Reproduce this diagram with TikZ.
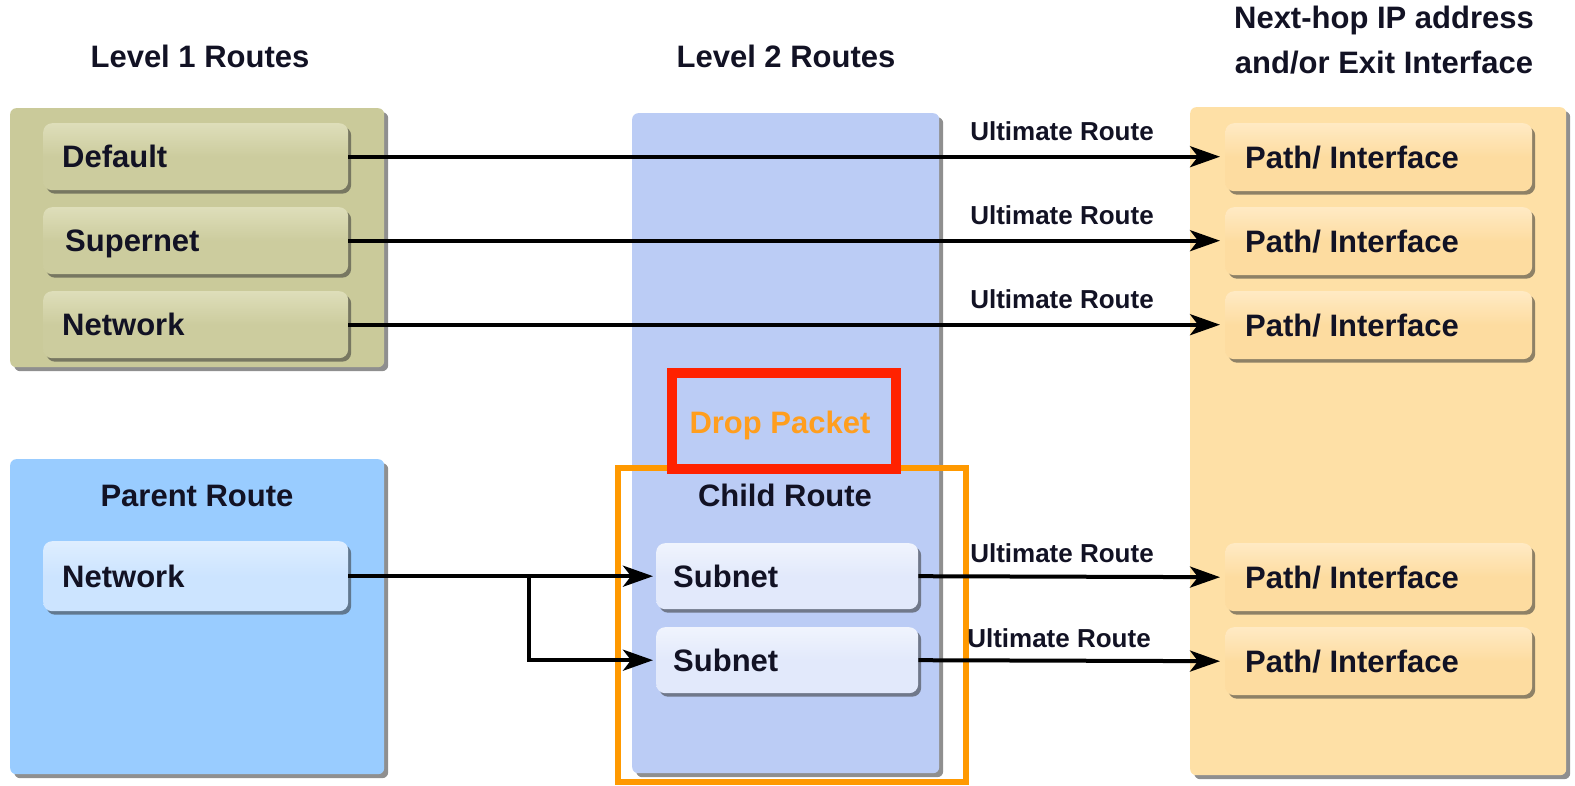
\documentclass[tikz,border=0pt]{standalone}
\usepackage{fontspec}
\setmainfont{Liberation Sans}
\usetikzlibrary{arrows.meta,shadows,calc}

\definecolor{ink}{RGB}{18,18,36}
\definecolor{olive}{RGB}{202,202,154}
\definecolor{olivekey}{RGB}{204,204,158}
\definecolor{olivetop}{RGB}{222,222,186}
\definecolor{sky}{RGB}{153,204,255}
\definecolor{skykey}{RGB}{204,228,255}
\definecolor{skytop}{RGB}{222,238,255}
\definecolor{lilac}{RGB}{187,204,245}
\definecolor{lilackey}{RGB}{226,233,251}
\definecolor{lilactop}{RGB}{240,244,253}
\definecolor{sand}{RGB}{254,224,166}
\definecolor{sandkey}{RGB}{253,220,160}
\definecolor{sandtop}{RGB}{255,234,196}
\definecolor{ambr}{RGB}{255,153,0}
\definecolor{droptxt}{RGB}{255,158,30}
\definecolor{alarm}{RGB}{255,34,0}

\tikzset{
  pane/.style={rounded corners=6pt, draw=none, inner sep=0pt, anchor=north west,
    drop shadow={shadow xshift=4pt, shadow yshift=-4pt, opacity=0.55, fill=black!80}},
  key/.style={rounded corners=9pt, draw=none, inner sep=0pt, anchor=north west,
    drop shadow={shadow xshift=3pt, shadow yshift=-3.5pt, opacity=0.55, fill=black!80}},
  lbl/.style={font=\fontsize{31}{36}\selectfont\bfseries, text=ink, inner sep=0pt,
    text height=22pt, text depth=0pt},
  head/.style={font=\fontsize{31}{36}\selectfont\bfseries, text=ink, inner sep=0pt,
    text height=22pt, text depth=0pt},
  tag/.style={font=\fontsize{26}{30}\selectfont\bfseries, text=ink, inner sep=0pt,
    text height=19pt, text depth=0pt},
  link/.style={line width=4pt, shorten >=5pt, -{Stealth[length=30pt, width=21pt, inset=8pt]}},
}

\begin{document}
\begin{tikzpicture}[x=1pt, y=-1pt]
\useasboundingbox (0,0) rectangle (1575,786);

% column headings
\node[head] (h1) at (200,57) {Level 1 Routes};
\node[head] (h2) at (786,57) {Level 2 Routes};
\node[head] (h3a) at (1384,18) {Next-hop IP address};
\node[head] (h3b) at (1384,63) {and/or Exit Interface};

% large panels
\node[pane, fill=olive, minimum width=374pt, minimum height=259pt] (lv1) at (10,108) {};
\node[pane, fill=sky, minimum width=374pt, minimum height=315pt] (par) at (10,459) {};
\node[pane, fill=lilac, minimum width=307pt, minimum height=660pt] (lv2) at (632,113) {};
\node[pane, fill=sand, minimum width=376pt, minimum height=668pt] (nh) at (1190,107) {};

% level 1 route entries
\node[key, top color=olivetop, bottom color=olivekey, middle color=olivekey,
  minimum width=305pt, minimum height=67pt] (def) at (43,123) {};
\node[key, top color=olivetop, bottom color=olivekey, middle color=olivekey,
  minimum width=305pt, minimum height=67pt] (sup) at (43,207) {};
\node[key, top color=olivetop, bottom color=olivekey, middle color=olivekey,
  minimum width=305pt, minimum height=67pt] (net) at (43,291) {};
\node[lbl, anchor=west] (tdef) at ([xshift=19pt]def.west) {Default};
\node[lbl, anchor=west] (tsup) at ([xshift=22pt]sup.west) {Supernet};
\node[lbl, anchor=west] (tnet) at ([xshift=19pt]net.west) {Network};

% parent route
\node[lbl] (tpar) at (197,495) {Parent Route};
\node[key, top color=skytop, bottom color=skykey, middle color=skykey,
  minimum width=305pt, minimum height=70pt] (pnet) at (43,541) {};
\node[lbl, anchor=west] (tpnet) at ([xshift=19pt]pnet.west) {Network};

% child routes
\node[lbl] (tchild) at (785,495) {Child Route};
\node[key, top color=lilactop, bottom color=lilackey, middle color=lilackey,
  minimum width=262pt, minimum height=66pt] (sn1) at (656,543) {};
\node[key, top color=lilactop, bottom color=lilackey, middle color=lilackey,
  minimum width=262pt, minimum height=66pt] (sn2) at (656,627) {};
\node[lbl, anchor=west] (tsn1) at ([xshift=17pt]sn1.west) {Subnet};
\node[lbl, anchor=west] (tsn2) at ([xshift=17pt]sn2.west) {Subnet};

% next-hop entries
\foreach \n/\y in {pi1/123, pi2/207, pi3/291, pi4/543, pi5/627}{
  \node[key, top color=sandtop, bottom color=sandkey, middle color=sandkey,
    minimum width=307pt, minimum height=68pt] (\n) at (1225,\y) {};
  \node[lbl, anchor=west] (t\n) at ([xshift=20pt]\n.west) {Path/ Interface};
}

% child route frame and drop packet marker
\draw[ambr, line width=6pt] (618,468) rectangle (966,782);
\node[draw=alarm, line width=10pt, minimum width=224pt, minimum height=96pt,
  anchor=north west, inner sep=0pt] (drop) at (667,368) {};
\node[font=\fontsize{31}{38}\selectfont\bfseries, text=droptxt, inner sep=0pt,
  text height=22pt, text depth=0pt] (tdrop) at (780,422) {Drop Packet};

% ultimate routes
\draw[link] (def.east) -- (def.east -| pi1.west);
\draw[link] (sup.east) -- (sup.east -| pi2.west);
\draw[link] (net.east) -- (net.east -| pi3.west);
\draw[link] (sn1.east) -- (pi4.west);
\draw[link] (sn2.east) -- (pi5.west);
\node[tag] (u1) at (1062,131) {Ultimate Route};
\node[tag] (u2) at (1062,215) {Ultimate Route};
\node[tag] (u3) at (1062,299) {Ultimate Route};
\node[tag] (u4) at (1062,553) {Ultimate Route};
\node[tag] (u5) at (1059,638) {Ultimate Route};

% parent route to its subnets
\coordinate (fork) at (529,576);
\draw[link, shorten >=3pt] (pnet.east) -- (sn1.west);
\draw[link, shorten >=3pt] (fork) |- (sn2.west);
\end{tikzpicture}
\end{document}
